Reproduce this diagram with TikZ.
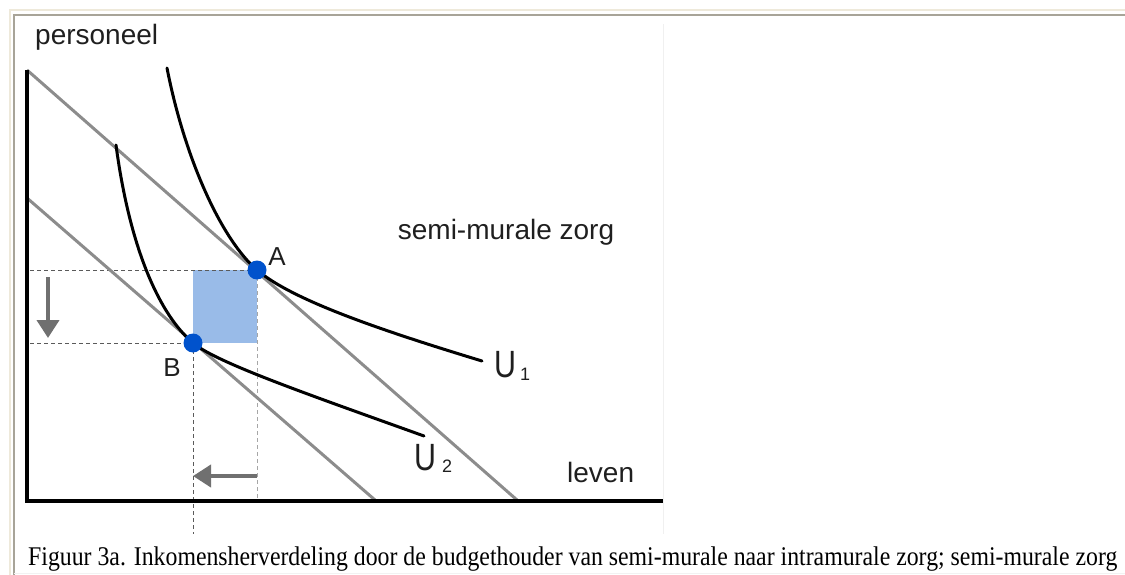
\documentclass[tikz,border=0pt]{standalone}
\usepackage{graphicx}
\usepackage{fontspec}
\setmainfont{Liberation Serif}
\newfontfamily\arialfont{Liberation Sans}
\usetikzlibrary{arrows.meta}
\definecolor{budgetgray}{RGB}{140,140,140}
\definecolor{dotblue}{RGB}{0,82,204}
\definecolor{areablue}{RGB}{153,187,232}
\definecolor{arrowgray}{RGB}{112,112,112}
\definecolor{dashgray}{RGB}{90,90,90}
\definecolor{framecream}{RGB}{238,233,218}
\definecolor{framegray}{RGB}{168,164,152}
% utility label: tall narrow U with a subscript
\newcommand{\ulabel}[3]{\scalebox{0.8}[1]{U}\hspace{#2}\raisebox{#3}{\fontsize{18}{18}\selectfont #1}}

\begin{document}
\begin{tikzpicture}[x=1pt, y=-1pt,
  lbl/.style={font=\arialfont\fontsize{28}{30}\selectfont, text=black!88, inner sep=0pt},
  ulbl/.style={font=\arialfont\fontsize{38}{40}\selectfont, text=black!88, inner sep=0pt},
  dot/.style={circle, fill=dotblue, minimum size=19pt, inner sep=0pt},
  budget/.style={budgetgray, line width=3pt},
  curve/.style={black, line width=3pt, line cap=round},
  guide/.style={dashgray, line width=1pt, dash pattern=on 4pt off 3pt},
  shiftarrow/.style={arrowgray, line width=4pt, -{Triangle[width=22pt,length=18pt]}}]
\useasboundingbox (0,0) rectangle (1125,575);

% frame of the page
\draw[framecream, line width=2pt] (10,575) -- (10,10) -- (1125,10);
\draw[framegray, line width=2pt] (14,575) -- (14,15) -- (1125,15);
\draw[gray!12] (663,24) -- (663,534);
\draw[gray!10] (14,573) -- (1125,573);

% points
\coordinate (pA) at (257,270);
\coordinate (pB) at (193,343);
\coordinate (origin) at (27,501);

% shifted area
\fill[areablue] (193,270) rectangle (pA |- pB);

% guide lines
\draw[guide] (30,270) -- (pA);
\draw[guide] (30,343) -- (pB);
\draw[guide, gray!70, line width=0.8pt] (pA) -- (257,500);
\draw[guide] (pB) -- (193,534);

% budget lines
\draw[budget] (27,70) -- (517,500);
\draw[budget] (27,198) -- (375,500);

% indifference curves
\draw[curve] (167,68) .. controls (185,160) and (222,240) .. (pA)
  .. controls (292,300) and (380,330) .. (482,361);
\draw[curve] (116,145) .. controls (130,250) and (160,315) .. (pB)
  .. controls (217,363) and (310,395) .. (424,436);

% axes
\draw[black, line width=3.5pt] (27,70) -- (origin) -- (663,501);

% equilibria
\node[dot] (A) at (pA) {};
\node[dot] (B) at (pB) {};

% shift arrows
\draw[shiftarrow] (48,277) -- (48,338);
\draw[shiftarrow] (257,476) -- (193,476);

% labels
\node[lbl, anchor=base west] (ylab) at (35,45) {personeel};
\node[lbl, anchor=base] (zorg) at (506,240) {semi-murale zorg};
\node[lbl, anchor=base west] (xlab) at (567,482) {leven};
\node[lbl, font=\arialfont\fontsize{26}{28}\selectfont] (labA) at (277,257) {A};
\node[lbl, font=\arialfont\fontsize{26}{28}\selectfont] (labB) at (172,368) {B};
\node[ulbl, anchor=base west] (labU1) at (494,377) {\ulabel{1}{4pt}{-3pt}};
\node[ulbl, anchor=base west] (labU2) at (414,470) {\ulabel{2}{6pt}{-2pt}};

% caption
\node[anchor=base west, inner sep=0pt, font=\fontsize{27}{30}\selectfont] (caption) at (28,565)
  {\resizebox{1089pt}{\height}{Figuur 3a. Inkomensherverdeling door de budgethouder van semi-murale naar intramurale zorg; semi-murale zorg}};
\end{tikzpicture}
\end{document}
